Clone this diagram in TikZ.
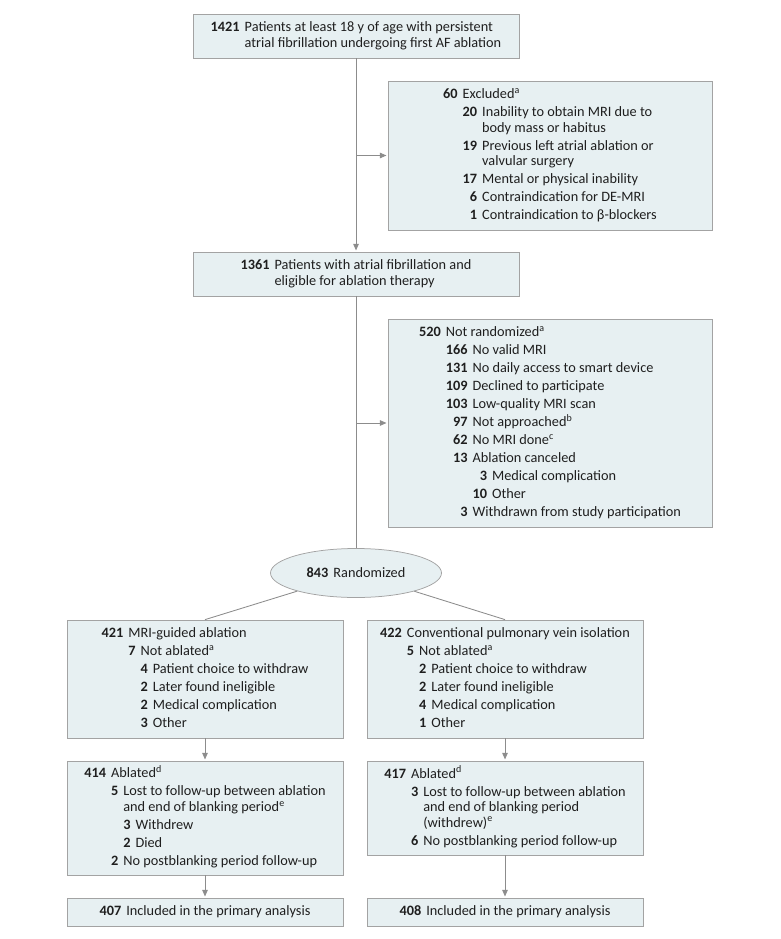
\documentclass[tikz,border=0pt]{standalone}
\usepackage{fontspec}
\usepackage{array}
\setmainfont{Carlito}
\usetikzlibrary{arrows.meta,shapes.geometric}
\definecolor{boxfill}{HTML}{E7F0F2}
\definecolor{boxdraw}{HTML}{A3A3A3}
\definecolor{linegray}{HTML}{8C8C8C}
\definecolor{txt}{HTML}{1F1F1F}
\newcommand{\nb}[1]{\textbf{#1}}
\newcommand{\sps}[1]{\textsuperscript{#1}}
\newenvironment{lvl}{\begin{tabular}[t]{@{}r@{\hspace{5pt}}l@{}}}{\end{tabular}}
\newenvironment{blk}{\begin{tabular}{@{}r@{\hspace{5pt}}l@{}}}{\end{tabular}}
\begin{document}
\begin{tikzpicture}[x=1pt,y=-1pt,
  box/.style={draw=boxdraw, fill=boxfill, line width=0.75pt, inner sep=0pt, text=txt, font=\fontsize{14.3}{18}\selectfont},
  conn/.style={draw=linegray, line width=0.85pt},
  arr/.style={conn, -{Triangle[length=6.5pt,width=5.5pt]}, shorten >=1.2pt}]
\useasboundingbox (0,0) rectangle (780,939);

\node[box, minimum width=326pt, minimum height=44pt] (top) at (356,36) {\begin{blk}
\nb{1421} & Patients at least 18 y of age with persistent\\[-2.5pt]
 & atrial fibrillation undergoing first AF ablation
\end{blk}};

\node[box, minimum width=324pt, minimum height=149pt] (excl) at (550,155.5) {\begin{blk}
\nb{60} & Excluded\sps{a}\\
 & \begin{lvl}
 \nb{20} & Inability to obtain MRI due to\\[-2.5pt]
  & body mass or habitus\\
 \nb{19} & Previous left atrial ablation or\\[-2.5pt]
  & valvular surgery\\
 \nb{17} & Mental or physical inability\\
 \nb{6} & Contraindication for DE-MRI\\
 \nb{1} & Contraindication to β-blockers
 \end{lvl}
\end{blk}};

\node[box, minimum width=326pt, minimum height=44pt] (mid) at (356,274) {\begin{blk}
\nb{1361} & Patients with atrial fibrillation and\\[-2.5pt]
 & eligible for ablation therapy
\end{blk}};

\node[box, minimum width=324pt, minimum height=208pt] (nr) at (550,423) {\begin{blk}
\nb{520} & Not randomized\sps{a}\\
 & \begin{lvl}
 \nb{166} & No valid MRI\\
 \nb{131} & No daily access to smart device\\
 \nb{109} & Declined to participate\\
 \nb{103} & Low-quality MRI scan\\
 \nb{97} & Not approached\sps{b}\\
 \nb{62} & No MRI done\sps{c}\\
 \nb{13} & Ablation canceled\\
  & \begin{lvl}
  \nb{3} & Medical complication\\
  \nb{10} & Other
  \end{lvl}\\
 \nb{3} & Withdrawn from study participation
 \end{lvl}
\end{blk}};

\node[box, ellipse, minimum width=171pt, minimum height=49pt] (rand) at (356,573) {\nb{843}\hspace{5pt}Randomized};

\node[box, minimum width=276pt, minimum height=118pt] (a1) at (205,679) {\begin{blk}
\nb{421} & MRI-guided ablation\\
 & \begin{lvl}
 \nb{7} & Not ablated\sps{a}\\
  & \begin{lvl}
  \nb{4} & Patient choice to withdraw\\
  \nb{2} & Later found ineligible\\
  \nb{2} & Medical complication\\
  \nb{3} & Other
  \end{lvl}
 \end{lvl}
\end{blk}};

\node[box, minimum width=276pt, minimum height=118pt] (b1) at (505,679) {\begin{blk}
\nb{422} & Conventional pulmonary vein isolation\\
 & \begin{lvl}
 \nb{5} & Not ablated\sps{a}\\
  & \begin{lvl}
  \nb{2} & Patient choice to withdraw\\
  \nb{2} & Later found ineligible\\
  \nb{4} & Medical complication\\
  \nb{1} & Other
  \end{lvl}
 \end{lvl}
\end{blk}};

\node[box, minimum width=276pt, minimum height=114pt] (a2) at (205,818) {\begin{blk}
\nb{414} & Ablated\sps{d}\\
 & \begin{lvl}
 \nb{5} & Lost to follow-up between ablation\\[-2.5pt]
  & and end of blanking period\sps{e}\\
  & \begin{lvl}
  \nb{3} & Withdrew\\
  \nb{2} & Died
  \end{lvl}\\
 \nb{2} & No postblanking period follow-up
 \end{lvl}
\end{blk}};

\node[box, minimum width=276pt, minimum height=94pt] (b2) at (505,808) {\begin{blk}
\nb{417} & Ablated\sps{d}\\
 & \begin{lvl}
 \nb{3} & Lost to follow-up between ablation\\[-2.5pt]
  & and end of blanking period\\[-2.5pt]
  & (withdrew)\sps{e}\\
 \nb{6} & No postblanking period follow-up
 \end{lvl}
\end{blk}};

\node[box, minimum width=276pt, minimum height=28pt] (a3) at (205,912) {\nb{407}\hspace{5pt}Included in the primary analysis};
\node[box, minimum width=276pt, minimum height=28pt] (b3) at (505,912) {\nb{408}\hspace{5pt}Included in the primary analysis};

\draw[arr] (top.south) -- (mid.north);
\draw[arr] (top.south |- excl.west) -- (excl.west);
\draw[conn] (mid.south) -- (rand.north);
\draw[arr] (mid.south |- nr.west) -- (nr.west);
\draw[conn] (rand) -- (a1.north);
\draw[conn] (rand) -- (b1.north);
\draw[arr] (a1.south) -- (a2.north);
\draw[arr] (b1.south) -- (b2.north);
\draw[arr] (a2.south) -- (a3.north);
\draw[arr] (b2.south) -- (b3.north);
\end{tikzpicture}
\end{document}
